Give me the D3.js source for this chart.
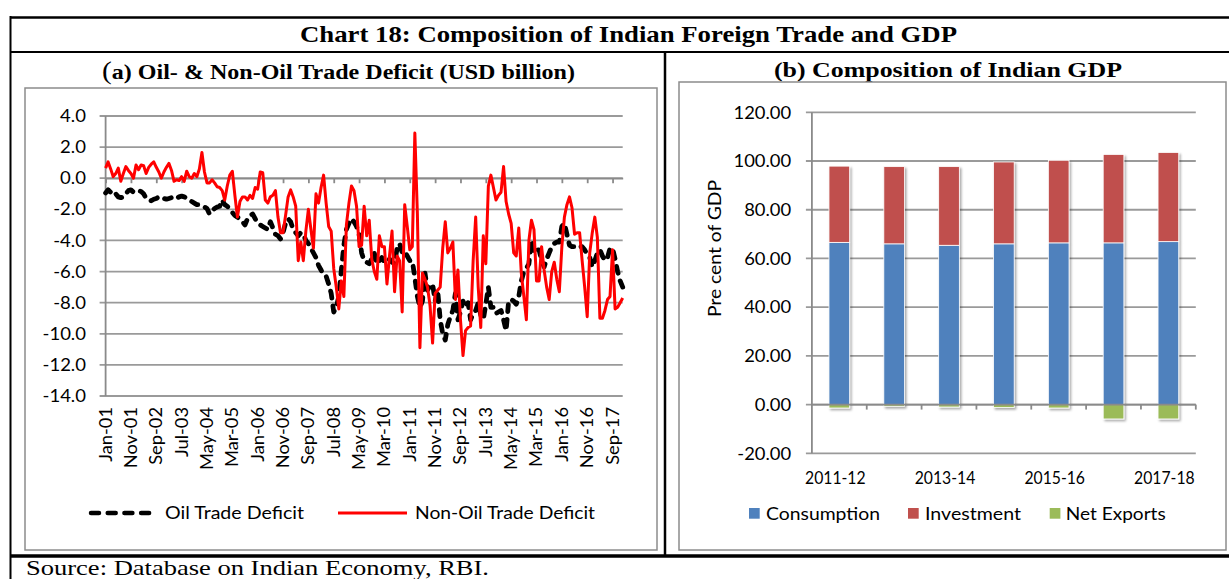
<!DOCTYPE html>
<html><head><meta charset="utf-8">
<script src="https://cdn.jsdelivr.net/npm/d3@7"></script>
<style>body{margin:0;background:#fff} svg{display:block}</style>
</head><body>
<svg id="c" width="1229" height="579"></svg>
<script>
// ---------------- DATA ----------------
const monthTickLabels = ["Jan-01","Nov-01","Sep-02","Jul-03","May-04","Mar-05","Jan-06","Nov-06","Sep-07","Jul-08","May-09","Mar-10","Jan-11","Nov-11","Sep-12","Jul-13","May-14","Mar-15","Jan-16","Nov-16","Sep-17"];
const leftYTicks = [4,2,0,-2,-4,-6,-8,-10,-12,-14];
const oilTradeDeficit = [-0.95,-0.75,-0.9,-1.1,-1.0,-1.2,-1.25,-1.2,-1.0,-0.8,
-0.75,-0.9,-0.85,-0.8,-0.85,-1.0,-1.3,-1.4,-1.45,-1.35,
-1.3,-1.2,-1.2,-1.3,-1.35,-1.3,-1.25,-1.35,-1.3,-1.2,
-1.15,-1.2,-1.3,-1.4,-1.5,-1.6,-1.7,-1.7,-1.8,-1.85,
-1.95,-2.3,-2.1,-1.95,-1.85,-1.8,-1.4,-1.7,-1.8,-2.0,
-2.2,-2.4,-2.5,-2.65,-2.8,-3.0,-2.6,-2.4,-2.3,-2.6,
-2.9,-3.0,-3.1,-3.2,-3.3,-2.8,-3.2,-3.6,-3.7,-3.9,
-3.5,-2.9,-2.6,-2.8,-3.3,-3.5,-3.7,-3.5,-3.6,-4.0,
-4.2,-4.5,-4.8,-5.1,-5.6,-5.9,-6.2,-6.3,-6.8,-7.4,
-8.6,-8.3,-7.6,-5.9,-4.3,-3.3,-2.9,-2.6,-2.8,-3.1,
-3.6,-4.8,-5.3,-5.4,-5.5,-5.2,-4.8,-5.5,-5.3,-5.1,
-5.4,-5.4,-5.2,-5.4,-5.5,-4.5,-4.2,-4.8,-4.7,-5.0,
-5.3,-5.3,-6.4,-7.6,-8.3,-7.9,-6.1,-7.2,-6.9,-6.8,
-7.9,-7.2,-9.1,-10.0,-10.4,-9.4,-8.9,-8.5,-7.4,-9.1,
-8.6,-7.9,-8.3,-8.0,-9.1,-8.7,-8.5,-8.0,-8.8,-9.1,
-8.1,-7.0,-8.3,-8.3,-8.7,-8.6,-8.5,-9.1,-9.8,-7.9,
-7.8,-7.9,-8.1,-7.6,-6.6,-6.0,-5.8,-5.5,-4.0,-4.8,
-4.6,-4.6,-5.3,-5.7,-5.2,-4.8,-4.4,-4.2,-4.1,-4.1,
-3.1,-2.9,-3.6,-4.3,-4.4,-4.4,-4.3,-4.4,-4.4,-4.6,
-4.9,-5.1,-5.7,-5.3,-4.8,-4.6,-5.0,-5.3,-5.1,-4.5,
-4.5,-5.2,-6.0,-6.6,-7.0];
const nonOilTradeDeficit = [0.65,1.05,0.6,0.1,0.3,0.65,-0.2,0.3,0.75,0.5,
0.3,0.0,0.85,0.55,0.85,0.8,0.3,0.7,0.9,1.05,
0.7,0.4,0.0,0.4,0.7,0.95,0.5,-0.2,-0.1,-0.15,
0.1,-0.2,0.45,0.1,0.0,0.3,0.1,0.6,1.65,0.4,
-0.3,-0.3,-0.1,-0.3,-0.55,-0.6,-0.8,-1.4,-0.5,0.2,
0.45,-1.1,-2.5,-1.5,-1.2,-1.2,-1.4,-1.1,-1.3,-0.6,
-0.7,0.4,0.35,-1.4,-1.6,-1.2,-1.1,-0.8,-2.5,-3.5,
-3.5,-2.4,-1.2,-0.75,-1.2,-1.8,-5.3,-4.1,-5.3,-3.4,
-2.0,-3.3,-4.5,-1.0,-1.6,-0.6,0.2,-1.6,-3.1,-3.4,
-5.8,-7.0,-8.4,-6.6,-7.6,-3.0,-1.6,-0.5,-0.8,-1.8,
-4.4,-4.3,-1.8,-3.7,-2.7,-5.2,-6.0,-6.5,-3.7,-4.4,
-4.4,-6.8,-5.0,-3.4,-7.3,-5.0,-5.3,-8.6,-1.7,-3.1,
-4.6,-4.4,2.9,-2.3,-10.9,-6.1,-6.5,-7.0,-8.2,-10.6,
-7.4,-7.2,-7.0,-4.5,-2.8,-4.8,-4.5,-4.1,-7.8,-5.9,
-9.1,-11.4,-9.8,-9.6,-9.5,-5.3,-2.5,-7.0,-9.6,-3.7,
-5.5,-0.5,0.2,-0.6,-1.4,-1.1,-0.9,0.75,-1.5,-2.3,
-2.9,-4.8,-5.0,-3.2,-6.1,-7.6,-9.1,-4.0,-2.7,-3.3,
-6.6,-6.6,-4.4,-5.9,-7.0,-7.8,-6.0,-5.4,-6.5,-7.3,
-4.4,-2.5,-1.7,-1.2,-1.9,-3.6,-3.5,-3.5,-5.3,-7.0,
-8.9,-4.8,-3.5,-2.5,-3.8,-9.0,-9.0,-8.5,-7.8,-7.6,
-4.6,-8.4,-8.3,-8.0,-7.7];

const gdpYears = ["2011-12","2012-13","2013-14","2014-15","2015-16","2016-17","2017-18"];
const gdpXTickLabels = ["2011-12","2013-14","2015-16","2017-18"];
const consumption = [66.6,66.0,65.4,66.0,66.4,66.4,66.9];
const investment  = [31.3,31.7,32.3,33.6,33.9,36.3,36.6];
const netExports  = [-1.4,-0.7,-1.0,-1.2,-1.4,-5.9,-5.9];
const rightYTicks = [120,100,80,60,40,20,0,-20];

// month categories Jan-01 .. Jan-18
const fmtMonth = d3.timeFormat("%b-%y");
const monthCats = d3.range(oilTradeDeficit.length).map(i => fmtMonth(new Date(2001, i, 1)));

// ---------------- STYLE ----------------
const SANS = "Lato, 'Open Sans', sans-serif";
const SERIF = "'Liberation Serif', 'Times New Roman', serif";
const GRID = "#9a9a9a";
const AXIS = "#8a8a8a";
const BLUE = "#4F81BD", RED = "#C0504D", GREEN = "#9BBB59";

const svg = d3.select("#c");
const defs = svg.append("defs");
const f = defs.append("filter").attr("id","sh").attr("x","-30%").attr("y","-10%").attr("width","170%").attr("height","130%");
f.append("feDropShadow").attr("dx",1.6).attr("dy",1.8).attr("stdDeviation",1.1).attr("flood-color","#000").attr("flood-opacity",0.35);

function fit(sel, w){ sel.attr("textLength", w).attr("lengthAdjust","spacingAndGlyphs"); }
function stretch(sel, k){
  sel.each(function(){ const w=this.getComputedTextLength(); this.setAttribute("textLength", w*k); this.setAttribute("lengthAdjust","spacingAndGlyphs"); });
}
function kFor(sel, refText, target){
  let k=1; sel.each(function(){ if(this.textContent===refText){ k = target/this.getComputedTextLength(); } }); return k;
}

// ---------------- FRAME ----------------
const frame = svg.append("g").attr("stroke","#000").attr("fill","none");
frame.append("line").attr("x1",10).attr("x2",1229).attr("y1",17.5).attr("y2",17.5).attr("stroke-width",2.5);
frame.append("line").attr("x1",10).attr("x2",1229).attr("y1",52).attr("y2",52).attr("stroke-width",2);
frame.append("line").attr("x1",10).attr("x2",1229).attr("y1",556).attr("y2",556).attr("stroke-width",3.5);
frame.append("line").attr("x1",10.5).attr("x2",10.5).attr("y1",16).attr("y2",579).attr("stroke-width",2);
frame.append("line").attr("x1",665).attr("x2",665).attr("y1",52).attr("y2",556).attr("stroke-width",2.5);

svg.append("text").attr("x",628.5).attr("y",42).attr("text-anchor","middle")
  .attr("font-family",SERIF).attr("font-weight","bold").attr("font-size",24)
  .text("Chart 18: Composition of Indian Foreign Trade and GDP").call(fit,657);

const ta = svg.append("text").attr("x",102).attr("y",79).attr("font-family",SERIF).attr("font-weight","bold").attr("font-size",20.5);
ta.append("tspan").attr("font-size",25).attr("font-weight","normal").text("(");
ta.append("tspan").text("a) Oil- & Non-Oil Trade Deficit (USD billion)");
fit(ta,473);

svg.append("text").attr("x",774).attr("y",77).attr("font-family",SERIF).attr("font-weight","bold").attr("font-size",22)
  .text("(b) Composition of Indian GDP").call(fit,348);

svg.append("text").attr("x",26).attr("y",575).attr("font-family",SERIF).attr("font-size",21)
  .text("Source: Database on Indian Economy, RBI.").call(fit,463);

// chart boxes
svg.append("rect").attr("x",25).attr("y",88).attr("width",632).attr("height",462).attr("fill","#fff").attr("stroke","#8c8c8c").attr("stroke-width",1.5);
svg.append("rect").attr("x",679).attr("y",82).attr("width",547).attr("height",468).attr("fill","#fff").attr("stroke","#8c8c8c").attr("stroke-width",1.5);

// ---------------- LEFT CHART ----------------
const L = svg.append("g");
const xL = d3.scaleLinear().domain([0, oilTradeDeficit.length-1]).range([105.6, 622.7]);
const yL = d3.scaleLinear().domain([-14, 4]).range([396, 116]);

L.append("g").selectAll("line").data(leftYTicks).join("line")
  .attr("x1", xL(0)-6).attr("x2", xL.range()[1]).attr("y1", d=>yL(d)).attr("y2", d=>yL(d))
  .attr("stroke", GRID).attr("stroke-width",1.8);
L.append("line").attr("x1",xL(0)).attr("x2",xL(0)).attr("y1",yL(4)).attr("y2",yL(-14)).attr("stroke",AXIS).attr("stroke-width",1.8);

const tickIdx = monthTickLabels.map(l => monthCats.indexOf(l));
const xAx = d3.axisBottom(xL).tickValues(tickIdx).tickSize(5).tickSizeOuter(0).tickFormat("");
const gx = L.append("g").attr("transform",`translate(0,${yL(0)})`).call(xAx);
gx.select(".domain").attr("stroke",AXIS).attr("stroke-width",1.8);
gx.selectAll(".tick line").attr("stroke",AXIS).attr("stroke-width",1.8);

const yLab = L.append("g").selectAll("text").data(leftYTicks).join("text")
  .attr("x",86).attr("y",d=>yL(d)).attr("dy","0.36em").attr("text-anchor","end")
  .attr("font-family",SANS).attr("font-size",17).attr("fill","#000")
  .text(d=>d.toFixed(1));
stretch(yLab, kFor(yLab,"-14.0",43.5));

const xLab = L.append("g").selectAll("text").data(monthTickLabels).join("text")
  .attr("transform",(d,k)=>`translate(${xL(tickIdx[k])},407) rotate(-90)`)
  .attr("dy","0.36em").attr("text-anchor","end")
  .attr("font-family",SANS).attr("font-size",16.5).attr("fill","#000")
  .text(d=>d);
stretch(xLab, kFor(xLab,"May-04",63));

const line = d3.line().x((d,i)=>xL(i)).y(d=>yL(d)).curve(d3.curveLinear);
L.append("path").datum(oilTradeDeficit).attr("d",line).attr("fill","none")
  .attr("stroke","#000").attr("stroke-width",4.8).attr("stroke-dasharray","7,8").attr("stroke-linecap","round").attr("stroke-linejoin","round");
L.append("path").datum(nonOilTradeDeficit).attr("d",line).attr("fill","none")
  .attr("stroke","#ff0000").attr("stroke-width",3).attr("stroke-linejoin","round");

// legend left
L.append("line").attr("x1",91).attr("x2",153).attr("y1",513).attr("y2",513)
  .attr("stroke","#000").attr("stroke-width",4.5).attr("stroke-dasharray","8,8.7").attr("stroke-linecap","round");
L.append("text").attr("x",165).attr("y",513).attr("dy","0.36em").attr("font-family",SANS).attr("font-size",18)
  .text("Oil Trade Deficit").call(fit,139);
L.append("line").attr("x1",338).attr("x2",407).attr("y1",513).attr("y2",513).attr("stroke","#ff0000").attr("stroke-width",3);
L.append("text").attr("x",415).attr("y",513).attr("dy","0.36em").attr("font-family",SANS).attr("font-size",18)
  .text("Non-Oil Trade Deficit").call(fit,180);

// ---------------- RIGHT CHART ----------------
const R = svg.append("g");
const xR = d3.scaleBand().domain(gdpYears).range([811.9, 1195.8]).paddingInner(0.623).paddingOuter(0.3115);
const yR = d3.scaleLinear().domain([-20, 120]).range([453.3, 112.3]);

R.append("g").selectAll("line").data(rightYTicks).join("line")
  .attr("x1", 811.9-6).attr("x2", 1195.8).attr("y1", d=>yR(d)).attr("y2", d=>yR(d))
  .attr("stroke", GRID).attr("stroke-width",1.8);
R.append("line").attr("x1",811.9).attr("x2",811.9).attr("y1",yR(120)).attr("y2",yR(-20)).attr("stroke",AXIS).attr("stroke-width",1.8);

const rows = gdpYears.map((y,i)=>({year:y, Consumption:consumption[i], Investment:investment[i], "Net Exports":netExports[i]}));
const keys = ["Consumption","Investment","Net Exports"];
const colors = {Consumption:BLUE, Investment:RED, "Net Exports":GREEN};
const stacked = d3.stack().keys(keys).offset(d3.stackOffsetDiverging)(rows);

const bars = R.append("g").attr("filter","url(#sh)");
bars.selectAll("g").data(stacked).join("g").attr("fill", s=>colors[s.key])
  .selectAll("rect").data(s=>s).join("rect")
  .attr("x", d=>xR(d.data.year)).attr("width", xR.bandwidth())
  .attr("y", d=>yR(Math.max(d[0],d[1]))).attr("height", d=>Math.abs(yR(d[0])-yR(d[1])))
  .attr("stroke","#fff").attr("stroke-width",0.8);

// zero axis with ticks at category boundaries
R.append("line").attr("x1",811.9).attr("x2",1195.8).attr("y1",yR(0)).attr("y2",yR(0)).attr("stroke",AXIS).attr("stroke-width",1.8);
R.append("g").selectAll("line").data(gdpYears).join("line")
  .attr("x1",d=>xR(d)-xR.step()*xR.paddingOuter()+xR.step()).attr("x2",d=>xR(d)-xR.step()*xR.paddingOuter()+xR.step())
  .attr("y1",yR(0)).attr("y2",yR(0)+5).attr("stroke",AXIS).attr("stroke-width",1.8);

const ryLab = R.append("g").selectAll("text").data(rightYTicks).join("text")
  .attr("x",791.2).attr("y",d=>yR(d)).attr("dy","0.36em").attr("text-anchor","end")
  .attr("font-family",SANS).attr("font-size",17.5).text(d=>d.toFixed(2));
stretch(ryLab, kFor(ryLab,"120.00",57.7));

const rxLab = R.append("g").selectAll("text").data(gdpXTickLabels).join("text")
  .attr("x",d=>xR(d)+xR.bandwidth()/2-4).attr("y",484).attr("text-anchor","middle")
  .attr("font-family",SANS).attr("font-size",17).text(d=>d);
stretch(rxLab, kFor(rxLab,"2011-12",60.6));

R.append("text").attr("transform","translate(721,248.5) rotate(-90)").attr("text-anchor","middle")
  .attr("font-family",SANS).attr("font-size",18).text("Pre cent of GDP").call(fit,137);

// legend right
const legR = [{k:"Consumption", sx:749, tx:766, w:114},{k:"Investment", sx:908, tx:925, w:96},{k:"Net Exports", sx:1049.7, tx:1065.7, w:100}];
const lg = R.append("g").selectAll("g").data(legR).join("g");
lg.append("rect").attr("x",d=>d.sx).attr("y",508).attr("width",10.7).attr("height",10.7).attr("fill",d=>colors[d.k]);
lg.append("text").attr("x",d=>d.tx).attr("y",513.5).attr("dy","0.36em").attr("font-family",SANS).attr("font-size",18)
  .text(d=>d.k).each(function(d){ this.setAttribute("textLength", d.w); this.setAttribute("lengthAdjust","spacingAndGlyphs"); });
</script>
</body></html>
